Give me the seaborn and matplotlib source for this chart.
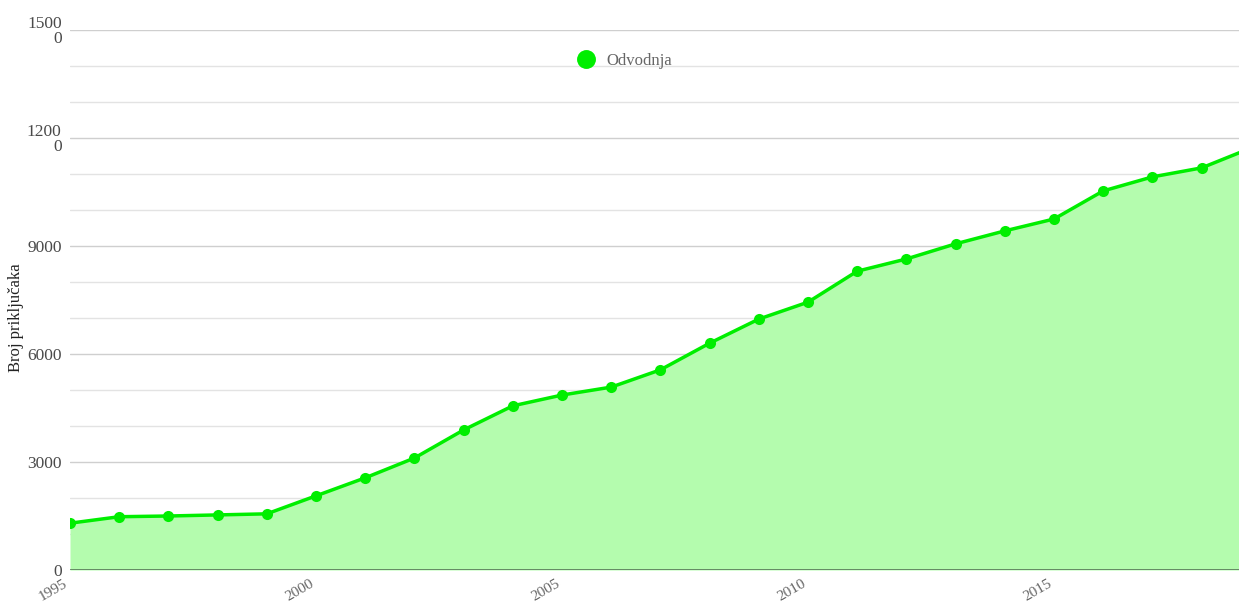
import numpy as np
import pandas as pd
import seaborn as sns
import matplotlib.pyplot as plt

# podaci: broj priključaka (odvodnja) po godinama
years = [1995, 1996, 1997, 1998, 1999, 2000, 2001, 2002, 2003, 2004, 2005, 2006,
         2007, 2008, 2009, 2010, 2011, 2012, 2013, 2014, 2015, 2016, 2017, 2018, 2019]
odvodnja = [1300, 1480, 1500, 1530, 1560, 2060, 2560, 3110, 3890, 4560, 4860, 5080,
            5560, 6300, 6970, 7440, 8300, 8640, 9060, 9420, 9750, 10530, 10920, 11170, 11720]
y_ticks = [0, 3000, 6000, 9000, 12000, 15000]
y_tick_labels = ['0', '3000', '6000', '9000', '1200\n0', '1500\n0']
x_ticks = [1995, 2000, 2005, 2010, 2015]

df = pd.DataFrame({'godina': years, 'Odvodnja': odvodnja})

sns.set_style('white')
plt.rcParams['font.family'] = ['Liberation Serif', 'DejaVu Serif']

fig = plt.figure(figsize=(12.39, 6.02), dpi=100)
ax = fig.add_axes([70/1239, 1 - 570/602, 1 - 70/1239, 540/602])

line_c = '#00ee00'
fill_c = '#b4fcae'

ax.fill_between(df['godina'], 0, df['Odvodnja'], color=fill_c, zorder=1, lw=0)
sns.lineplot(data=df, x='godina', y='Odvodnja', ax=ax, color=line_c, lw=2.5,
             marker='o', markersize=8, markeredgewidth=0, label='Odvodnja', zorder=3)

# mreža
for v in range(1000, 15001, 1000):
    c = '#cfcfcf' if v % 3000 == 0 else '#e3e3e3'
    ax.axhline(v, color=c, lw=1, zorder=0.5 if v < 12000 else 2)
ax.axhline(0, color='#5d7f5d', lw=2, zorder=4)

ax.set_xlim(1995, 2018.76)
ax.set_ylim(0, 15000)
ax.set_yticks(y_ticks)
ax.set_yticklabels(y_tick_labels, color='#4a4a4a', fontsize=12.5, linespacing=0.95)
ax.set_xticks(x_ticks)
ax.set_xticklabels([str(x) for x in x_ticks], color='#666666', fontsize=11,
                   rotation=30, ha='right', va='top')
ax.tick_params(axis='y', length=0, pad=6)
ax.tick_params(axis='x', length=0, pad=5)
ax.set_xlabel('')
ax.set_ylabel('Broj priključaka', fontsize=12, color='#222222')
ax.yaxis.set_label_coords(-0.039, 0.467)
for s in ax.spines.values():
    s.set_visible(False)

leg = ax.legend(loc='upper center', bbox_to_anchor=(0.476, 0.985), frameon=False,
                fontsize=12, handlelength=0.6, handletextpad=0.9, markerscale=1.7)
for t in leg.get_texts():
    t.set_color('#666666')
for h in leg.legend_handles:
    h.set_linestyle('none')

fig.savefig('out.png', dpi=100)
